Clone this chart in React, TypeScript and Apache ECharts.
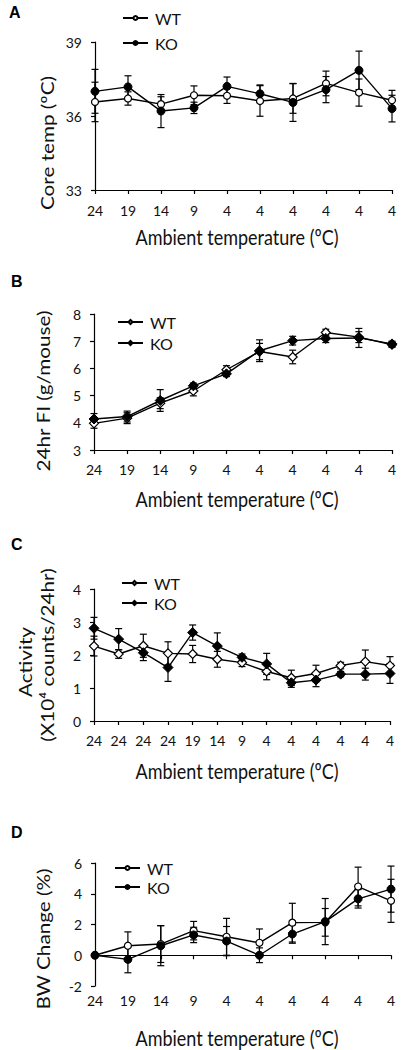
import React, { useEffect, useRef } from "react";
import * as echarts from "echarts";

// ---------- data ----------
const catsA = ["24", "19", "14", "9", "4", "4", "4", "4", "4", "4"];
const catsB = ["24", "19", "14", "9", "4", "4", "4", "4", "4", "4"];
const catsC = ["24", "24", "24", "24", "19", "14", "9", "4", "4", "4", "4", "4", "4"];
const catsD = ["24", "19", "14", "9", "4", "4", "4", "4", "4", "4"];

const wtA = [36.57, 36.71, 36.48, 36.84, 36.82, 36.61, 36.71, 37.32, 36.95, 36.64];
const wtAErr = [0.8, 0.27, 0.3, 0.38, 0.31, 0.62, 0.6, 0.5, 0.55, 0.4];
const koA = [37.0, 37.18, 36.2, 36.33, 37.2, 36.9, 36.55, 37.07, 37.85, 36.3];
const koAErr = [0.89, 0.45, 0.67, 0.23, 0.38, 0.36, 0.77, 0.53, 0.78, 0.54];

const wtB = [3.98, 4.17, 4.72, 5.17, 5.95, 6.62, 6.42, 7.32, 7.15, 6.87];
const wtBErr = [0.18, 0.2, 0.2, 0.18, 0.15, 0.3, 0.25, 0.12, 0.2, 0.1];
const koB = [4.14, 4.23, 4.82, 5.36, 5.8, 6.65, 7.02, 7.1, 7.12, 6.9];
const koBErr = [0.2, 0.2, 0.4, 0.1, 0.1, 0.4, 0.16, 0.15, 0.35, 0.1];

const wtC = [2.27, 2.03, 2.28, 2.05, 2.03, 1.87, 1.77, 1.5, 1.31, 1.44, 1.68, 1.8, 1.68];
const wtCErr = [0.3, 0.13, 0.35, 0.35, 0.26, 0.24, 0.12, 0.25, 0.23, 0.25, 0.1, 0.35, 0.27];
const koC = [2.81, 2.48, 2.07, 1.62, 2.68, 2.27, 1.93, 1.73, 1.16, 1.24, 1.42, 1.42, 1.44];
const koCErr = [0.33, 0.32, 0.24, 0.42, 0.23, 0.4, 0.1, 0.32, 0.14, 0.2, 0.08, 0.18, 0.3];

const wtD = [0, 0.62, 0.73, 1.6, 1.2, 0.81, 2.12, 2.14, 4.47, 3.54];
const wtDErr = [0, 0.9, 1.2, 0.6, 1.2, 0.9, 1.26, 0.9, 1.26, 1.4];
const koD = [0, -0.27, 0.62, 1.32, 0.92, 0, 1.38, 2.19, 3.67, 4.3];
const koDErr = [0, 0.87, 1.3, 0.5, 0.95, 0.48, 0.6, 1.5, 0.6, 1.5];

const xTitle = "Ambient temperature (ºC)";
const yTitles = ["Core temp (ºC)", "24hr FI (g/mouse)", "Activity", "(X10⁴ counts/24hr)", "BW Change (%)"];

// ---------- layout ----------
const FONT = "Lato, 'Open Sans', sans-serif";

type Panel = {
  key: string;
  cats: string[];
  wt: number[];
  wtErr: number[];
  ko: number[];
  koErr: number[];
  min: number;
  max: number;
  interval: number;
  symbol: string;
  top: number;
  height: number;
  left: number;
  right: number;
  xMargin: number;
  legendX: number;
  legendY: [number, number];
};

const panels: Panel[] = [
  { key: "A", cats: catsA, wt: wtA, wtErr: wtAErr, ko: koA, koErr: koAErr, min: 33, max: 39, interval: 3, symbol: "circle", top: 42, height: 148, left: 95, right: 10, xMargin: 13, legendX: 122, legendY: [18, 43] },
  { key: "B", cats: catsB, wt: wtB, wtErr: wtBErr, ko: koB, koErr: koBErr, min: 3, max: 8, interval: 1, symbol: "diamond", top: 314, height: 136, left: 94, right: 10, xMargin: 12, legendX: 117, legendY: [322, 343] },
  { key: "C", cats: catsC, wt: wtC, wtErr: wtCErr, ko: koC, koErr: koCErr, min: 0, max: 4, interval: 1, symbol: "diamond", top: 589, height: 132, left: 94, right: 12, xMargin: 12, legendX: 121, legendY: [583, 603] },
  { key: "D", cats: catsD, wt: wtD, wtErr: wtDErr, ko: koD, koErr: koDErr, min: -2, max: 6, interval: 2, symbol: "circle", top: 863, height: 123, left: 95, right: 11, xMargin: 7, legendX: 114, legendY: [868, 887] },
];

function errRender(params: any, api: any) {
  const x = api.value(0);
  const lo = api.coord([x, api.value(1)]);
  const hi = api.coord([x, api.value(2)]);
  const w = 3.5;
  const st = { stroke: "#000", lineWidth: 1.2 };
  return {
    type: "group",
    children: [
      { type: "line", shape: { x1: lo[0], y1: lo[1], x2: hi[0], y2: hi[1] }, style: st },
      { type: "line", shape: { x1: hi[0] - w, y1: hi[1], x2: hi[0] + w, y2: hi[1] }, style: st },
      { type: "line", shape: { x1: lo[0] - w, y1: lo[1], x2: lo[0] + w, y2: lo[1] }, style: st },
    ],
  };
}

function buildOption() {
  const grid: any[] = [];
  const xAxis: any[] = [];
  const yAxis: any[] = [];
  const series: any[] = [];
  const legend: any[] = [];

  panels.forEach((p, i) => {
    grid.push({ left: p.left, right: p.right, top: p.top, height: p.height });
    xAxis.push({
      type: "category",
      gridIndex: i,
      data: p.cats,
      boundaryGap: false,
      axisLine: { lineStyle: { color: "#000", width: 1.2 } },
      axisTick: { alignWithLabel: true, length: 4, lineStyle: { color: "#000", width: 1.2 } },
      axisLabel: { interval: 0, color: "#111", fontSize: 14, fontFamily: FONT, margin: p.xMargin },
      splitLine: { show: false },
    });
    yAxis.push({
      type: "value",
      gridIndex: i,
      min: p.min,
      max: p.max,
      interval: p.interval,
      axisLine: { show: true, lineStyle: { color: "#000", width: 1.2 } },
      axisTick: { show: true, length: 4, lineStyle: { color: "#000", width: 1.2 } },
      axisLabel: { color: "#111", fontSize: 14, fontFamily: FONT, margin: 13 },
      splitLine: { show: false },
    });
    const errData = (vals: number[], errs: number[]) =>
      vals.map((v, j) => [j, v - errs[j], v + errs[j]]);
    series.push({
      type: "custom",
      name: p.key + "-WTerr",
      xAxisIndex: i,
      yAxisIndex: i,
      renderItem: errRender,
      encode: { x: 0, y: [1, 2] },
      data: errData(p.wt, p.wtErr),
      z: 1,
      silent: true,
    });
    series.push({
      type: "custom",
      name: p.key + "-KOerr",
      xAxisIndex: i,
      yAxisIndex: i,
      renderItem: errRender,
      encode: { x: 0, y: [1, 2] },
      data: errData(p.ko, p.koErr),
      z: 1,
      silent: true,
    });
    series.push({
      type: "line",
      name: p.key + "-WT",
      xAxisIndex: i,
      yAxisIndex: i,
      data: p.wt,
      symbol: p.symbol,
      symbolSize: p.symbol === "diamond" ? 9 : 7,
      showAllSymbol: true,
      lineStyle: { color: "#000", width: 1.4 },
      itemStyle: { color: "#fff", borderColor: "#000", borderWidth: 1.2 },
      z: 3,
    });
    series.push({
      type: "line",
      name: p.key + "-KO",
      xAxisIndex: i,
      yAxisIndex: i,
      data: p.ko,
      symbol: p.symbol,
      symbolSize: p.symbol === "diamond" ? 10 : 8,
      showAllSymbol: true,
      lineStyle: { color: "#000", width: 1.4 },
      itemStyle: { color: "#000", borderColor: "#000", borderWidth: 1 },
      z: 4,
    });
    ["WT", "KO"].forEach((n, k) => {
      legend.push({
        data: [p.key + "-" + n],
        left: p.legendX,
        top: p.legendY[k] - 9,
        itemWidth: 25,
        itemHeight: 5,
        itemGap: 0,
        padding: 0,
        selectedMode: false,
        formatter: (name: string) => name.split("-")[1],
        textStyle: { fontSize: 16, color: "#111", fontFamily: FONT, padding: [0, 0, 0, 2], lineHeight: 18 },
      });
    });
  });

  const graphic: any[] = [];
  const labels = [
    { t: "A", x: 9, y: 13 },
    { t: "B", x: 11, y: 282 },
    { t: "C", x: 11, y: 545 },
    { t: "D", x: 11, y: 833 },
  ];
  labels.forEach((l) =>
    graphic.push({
      type: "text",
      left: l.x,
      top: l.y - 9,
      style: { text: l.t, font: "bold 16px 'Liberation Sans', Arial, sans-serif", fill: "#000" },
    })
  );
  const xt = [236, 498, 770, 1037];
  xt.forEach((y) =>
    graphic.push({
      type: "text",
      x: 237,
      y,
      scaleY: 1.2,
      style: { text: xTitle, font: `18px ${FONT}`, fill: "#111", align: "center", verticalAlign: "middle" },
    })
  );
  const yt = [
    { t: yTitles[0], x: 47, y: 143 },
    { t: yTitles[1], x: 43, y: 391 },
    { t: yTitles[2], x: 25, y: 662 },
    { t: yTitles[3], x: 47, y: 655 },
    { t: yTitles[4], x: 43, y: 939 },
  ];
  yt.forEach((o) =>
    graphic.push({
      type: "text",
      x: o.x,
      y: o.y,
      rotation: Math.PI / 2,
      scaleX: 1.15,
      style: { text: o.t, font: `18px ${FONT}`, fill: "#111", align: "center", verticalAlign: "middle" },
    })
  );

  return {
    animation: false,
    backgroundColor: "#fff",
    grid,
    xAxis,
    yAxis,
    series,
    legend,
    graphic,
  };
}

export default function App() {
  const ref = useRef<HTMLDivElement>(null);
  useEffect(() => {
    if (!ref.current) return;
    const chart = echarts.init(ref.current, undefined, { renderer: "svg" });
    chart.setOption(buildOption() as any);
    return () => chart.dispose();
  }, []);
  return (
    <div
      ref={ref}
      style={{ position: "absolute", left: 0, top: 0, width: 402, height: 1050, background: "#fff" }}
    />
  );
}
